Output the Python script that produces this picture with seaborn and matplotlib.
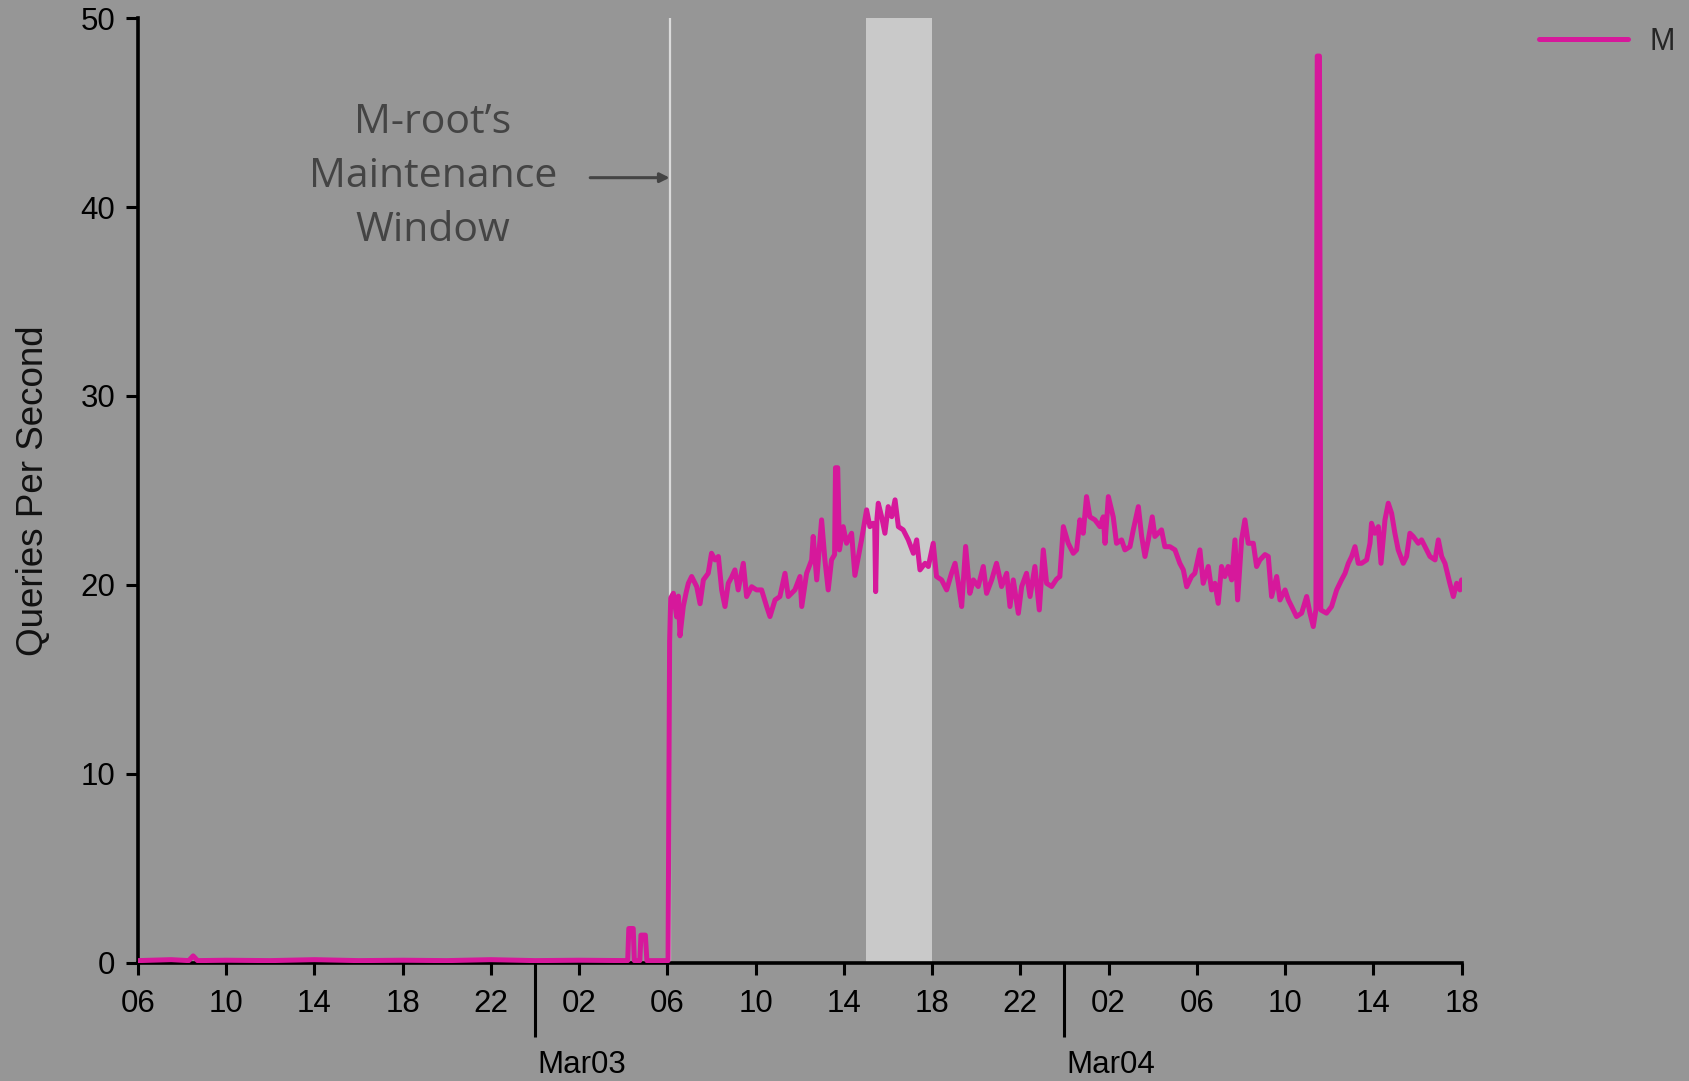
import numpy as np
import pandas as pd
import matplotlib
matplotlib.use("Agg")
import matplotlib.pyplot as plt
import matplotlib.transforms as mtransforms
import seaborn as sns

# Hours since 06:00 on Mar 02, and M-root queries per second
hours_quiet = [0.0, 1.5, 2.3, 2.5, 2.7, 4.0, 6.0, 8.0, 10.0, 12.0, 14.0, 16.0, 18.0,
               20.0, 22.1, 22.2, 22.25, 22.45, 22.5, 22.75, 22.8, 23.0, 23.07, 23.3, 23.95]
qps_quiet = [0.1, 0.15, 0.1, 0.35, 0.1, 0.12, 0.1, 0.15, 0.1, 0.12, 0.1, 0.15, 0.1,
             0.12, 0.1, 0.1, 1.8, 1.8, 0.1, 0.1, 1.45, 1.45, 0.1, 0.1, 0.1]

hours_mar03 = [24.03, 24.10, 24.15, 24.27, 24.42, 24.50, 24.57, 24.72, 24.85, 24.95,
               25.10, 25.33, 25.48, 25.63, 25.85, 26.00, 26.16, 26.31, 26.46, 26.61,
               26.76, 26.91, 27.06, 27.21, 27.44, 27.59, 27.82, 28.04, 28.27, 28.50,
               28.65, 28.88, 29.10, 29.33, 29.48, 29.78, 30.01, 30.09, 30.31, 30.54,
               30.61, 30.77, 30.99, 31.14, 31.29, 31.44, 31.58, 31.62, 31.72, 31.80,
               31.97, 32.12, 32.35, 32.50, 32.80, 33.03, 33.18, 33.33, 33.40, 33.44,
               33.50, 33.56, 33.71, 33.86, 34.01, 34.17, 34.32, 34.47, 34.69, 34.92,
               35.15, 35.30, 35.45, 35.68, 35.83, 36.05, 36.20, 36.43, 36.66, 36.88,
               37.04, 37.19, 37.34, 37.52, 37.71, 37.87, 38.09, 38.32, 38.47, 38.70,
               38.92, 39.15, 39.38, 39.53, 39.68, 39.91, 40.06, 40.28, 40.44, 40.66,
               40.86, 41.04, 41.19, 41.42, 41.64, 41.79, 41.95]
qps_mar03 = [0.1, 17.0, 19.3, 19.55, 18.3, 19.4, 17.3, 18.85, 19.6, 20.08,
             20.44, 19.9, 19.0, 20.26, 20.61, 21.67, 21.32, 21.5, 19.73, 18.85,
             20.08, 20.4, 20.79, 19.73, 21.14, 19.38, 19.9, 19.73, 19.73, 18.85,
             18.32, 19.2, 19.38, 20.61, 19.38, 19.73, 20.44, 18.85, 20.61, 21.32,
             22.56, 20.26, 23.44, 21.32, 19.73, 21.32, 21.6, 26.2, 26.2, 21.85,
             23.08, 22.2, 22.73, 20.5, 22.38, 23.97, 23.08, 23.26, 23.0, 19.64,
             23.5, 24.32, 23.61, 22.73, 24.14, 23.61, 24.5, 23.08, 22.91, 22.38,
             21.67, 22.38, 20.79, 21.14, 20.97, 22.2, 20.44, 20.26, 19.73, 20.61,
             21.14, 20.08, 18.85, 22.03, 19.55, 20.26, 19.91, 20.97, 19.55, 20.26,
             21.14, 19.91, 20.61, 18.85, 20.26, 18.49, 19.91, 20.61, 19.38, 20.97,
             18.67, 21.85, 20.08, 19.91, 20.3, 20.44, 23.08]

hours_mar04 = [42.17, 42.40, 42.55, 42.70, 42.85, 43.00, 43.15, 43.38, 43.61, 43.76,
               43.84, 43.99, 44.21, 44.36, 44.59, 44.74, 44.97, 45.12, 45.35, 45.50,
               45.65, 45.80, 45.98, 46.10, 46.40, 46.55, 46.78, 47.01, 47.23, 47.39,
               47.54, 47.76, 47.91, 48.14, 48.29, 48.52, 48.67, 48.82, 48.97, 49.12,
               49.27, 49.42, 49.58, 49.73, 49.85, 50.03, 50.18, 50.33, 50.56, 50.71,
               50.86, 51.09, 51.24, 51.39, 51.62, 51.77, 52.00, 52.15, 52.30, 52.52,
               52.75, 52.98, 53.13, 53.28, 53.40, 53.46, 53.56, 53.62, 53.88, 54.11,
               54.34, 54.56, 54.72, 54.87, 55.02, 55.17, 55.32, 55.47, 55.70, 55.85,
               55.92, 56.07, 56.23, 56.35, 56.53, 56.68, 56.83, 56.98, 57.13, 57.36,
               57.51, 57.66, 57.81, 58.04, 58.19, 58.42, 58.57, 58.80, 58.95, 59.10,
               59.25, 59.47, 59.63, 59.78, 59.93, 60.00]
qps_mar04 = [22.2, 21.67, 21.85, 23.44, 22.73, 24.67, 23.6, 23.44, 23.08, 23.6,
             22.2, 24.67, 23.6, 22.2, 22.38, 21.85, 22.02, 22.91, 24.14, 22.56,
             21.5, 22.38, 23.6, 22.56, 22.91, 22.02, 22.02, 21.85, 21.14, 20.79,
             19.9, 20.44, 20.61, 21.85, 20.08, 20.97, 19.73, 20.08, 19.02, 20.97,
             20.44, 20.97, 20.26, 22.38, 19.2, 22.38, 23.44, 22.2, 22.2, 20.97,
             21.32, 21.6, 21.5, 19.38, 20.44, 19.2, 19.73, 19.2, 18.85, 18.32,
             18.5, 19.38, 18.5, 17.79, 18.7, 48.0, 48.0, 18.67, 18.5, 18.85,
             19.73, 20.26, 20.61, 21.14, 21.5, 22.02, 21.14, 21.14, 21.32, 22.2,
             23.26, 22.73, 23.08, 21.14, 23.44, 24.32, 23.79, 22.73, 21.85, 21.14,
             21.5, 22.73, 22.56, 22.2, 22.38, 21.85, 21.5, 21.32, 22.38, 21.5,
             21.14, 20.08, 19.38, 20.08, 19.73, 20.26]

x_ticks = list(range(0, 61, 4))
x_tick_labels = ["06", "10", "14", "18", "22", "02", "06", "10",
                 "14", "18", "22", "02", "06", "10", "14", "18"]
y_ticks = [0, 10, 20, 30, 40, 50]
day_starts = [18, 42]
day_labels = ["Mar03", "Mar04"]

maintenance_line = 24.14
highlight_span = (33, 36)

df = pd.DataFrame({
    "hour": hours_quiet + hours_mar03 + hours_mar04,
    "qps": qps_quiet + qps_mar03 + qps_mar04,
})

BG = "#969696"
PINK = "#d6189b"

sns.set_theme(style="ticks")
plt.rcParams["font.family"] = ["Liberation Sans", "DejaVu Sans"]

fig = plt.figure(figsize=(16.9, 10.81), dpi=100, facecolor=BG)
ax = fig.add_axes([0.08166, 0.10962, 0.78314, 0.87345])
ax.set_facecolor(BG)

ax.axvspan(*highlight_span, color="#c9c9c9", lw=0, zorder=0.5)
ax.axvline(maintenance_line, color="#dadada", lw=1.6, zorder=1)

sns.lineplot(data=df, x="hour", y="qps", ax=ax, color=PINK, linewidth=3.6,
             estimator=None, sort=False, label="M", zorder=3)

ax.set_xlim(0, 60)
ax.set_ylim(0, 50)
ax.set_xticks(x_ticks)
ax.set_xticklabels(x_tick_labels)
ax.set_yticks(y_ticks)
ax.set_xticks(day_starts, minor=True)

for side in ("top", "right"):
    ax.spines[side].set_visible(False)
for side in ("left", "bottom"):
    ax.spines[side].set_color("black")
    ax.spines[side].set_linewidth(2.6)

ax.tick_params(axis="both", which="major", direction="out", length=8.5, width=2.2,
               color="black", labelsize=22.5, labelcolor="black")
ax.tick_params(axis="x", which="major", pad=10.5)
ax.tick_params(axis="y", which="major", pad=8)
ax.tick_params(axis="x", which="minor", direction="out", length=53.5, width=2.2,
               color="black")

ax.set_xlabel("")
ax.set_ylabel("Queries Per Second", fontsize=26.5, color="#111111")
ax.yaxis.set_label_coords(-0.066, 0.5)

# date labels under the midnight ticks
trans = mtransforms.blended_transform_factory(ax.transData, fig.transFigure)
for d, lab in zip(day_starts, day_labels):
    ax.text(d + 0.1, 0.007, lab, transform=trans, ha="left", va="baseline",
            fontsize=22.5, color="black", clip_on=False)

# maintenance-window annotation
ax.text(13.37, 41.6, "M-root\u2019s\nMaintenance\nWindow", ha="center", va="center",
        fontsize=29.5, color="#444444", family=["Open Sans", "DejaVu Sans"],
        linespacing=1.45)
ax.annotate("", xy=(24.1, 41.56), xytext=(20.5, 41.56),
            arrowprops=dict(arrowstyle="-|>", color="#444444", lw=2.2,
                            mutation_scale=14, shrinkA=0, shrinkB=0))

ax.legend(loc="center left", bbox_to_anchor=(0.9107, 0.961),
          bbox_transform=fig.transFigure, frameon=False, handlelength=2.9,
          handletextpad=0.7, borderpad=0, borderaxespad=0, fontsize=22)

fig.savefig("out.png", dpi=100, facecolor=BG)
